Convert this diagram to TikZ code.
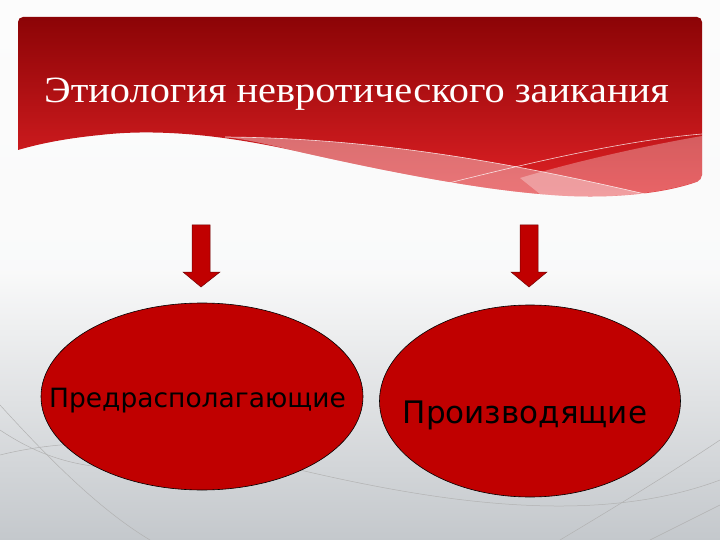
\documentclass[tikz,border=0pt]{standalone}
\usepackage{fontspec}
\usetikzlibrary{shapes.geometric}
\newfontfamily\titlefont{Liberation Serif}
\newfontfamily\causefont{DejaVu Sans}
\definecolor{slidered}{RGB}{192,0,0}
\definecolor{bannertop}{RGB}{140,4,6}
\definecolor{bannerbottom}{RGB}{226,34,38}
\definecolor{bgtop}{RGB}{252,252,252}
\definecolor{bgbottom}{RGB}{196,200,204}
\tikzset{
    cause/.style={ellipse, draw=black, line width=0.6pt, fill=slidered, inner sep=0pt},
    causetext/.style={font=\causefont, text=black, inner sep=0pt},
    downarrow/.style={fill=slidered, draw=bannertop!80!black, line width=0.5pt},
    bgline/.style={draw=gray!60, line width=0.5pt},
    waveline/.style={draw=white, opacity=0.8, line width=0.6pt}
}
\begin{document}
\begin{tikzpicture}[x=1pt, y=-1pt]
        \useasboundingbox (0,0) rectangle (720,540);
        \begin{scope}
            \shade [top color=bgtop, bottom color=bgbottom, middle color=bgtop!95!bgbottom] (0,0) rectangle (720,540);
            \draw [bgline] (0,405) .. controls (50,460) and (100,510) .. (150,540);
            \draw [bgline] (0,455) .. controls (80,435) and (180,440) .. (300,470);
            \draw [bgline] (300,470) .. controls (450,505) and (600,525) .. (720,480);
            \draw [bgline] (0,430) .. controls (60,470) and (120,480) .. (250,455);
            \draw [bgline] (720,440) .. controls (660,480) and (610,510) .. (560,540);
            \draw [bgline] (720,505) .. controls (690,520) and (670,530) .. (650,540);
        \end{scope}
        \begin{scope}
            \shade [top color=bannertop, bottom color=bannerbottom, rounded corners=5pt]
                (18,150) -- (18,17) -- (702,17) -- (702,180) [sharp corners]
                .. controls (660,195) and (600,200) .. (540,194)
                .. controls (470,188) and (380,170) .. (300,152)
                .. controls (230,136) and (160,128) .. (100,135)
                .. controls (60,139) and (35,145) .. (18,150) -- cycle;
            \fill [white, opacity=0.38]
                (225,137) .. controls (380,138) and (520,165) .. (645,194)
                .. controls (600,200) and (560,198) .. (540,194)
                .. controls (470,188) and (380,170) .. (300,152)
                .. controls (270,145) and (250,140) .. (225,137) -- cycle;
            \fill [white, opacity=0.3]
                (520,178) .. controls (580,160) and (650,145) .. (702,136)
                -- (702,180) .. controls (660,195) and (600,200) .. (540,194)
                -- (520,178) -- cycle;
            \draw [waveline] (225,137) .. controls (380,138) and (520,165) .. (645,194);
            \draw [waveline] (445,184) .. controls (540,160) and (630,140) .. (702,134);
            \node [font=\titlefont, text=white, anchor=base, inner sep=0pt, xscale=1.09] (title) at (356.5,103)
                {\fontsize{37}{40}\selectfont Этиология невротического заикания};
        \end{scope}
        \begin{scope}
            \coordinate (ltop) at (201,225);
            \coordinate (rtop) at (529,225);
            \filldraw [downarrow] ([xshift=-9]ltop) -- ([xshift=9]ltop) -- ([xshift=9,yshift=-47]ltop)
                -- ([xshift=19,yshift=-47]ltop) -- ([yshift=-62]ltop) -- ([xshift=-18,yshift=-47]ltop)
                -- ([xshift=-9,yshift=-47]ltop) -- cycle;
            \filldraw [downarrow] ([xshift=-9]rtop) -- ([xshift=9]rtop) -- ([xshift=9,yshift=-47]rtop)
                -- ([xshift=18,yshift=-47]rtop) -- ([yshift=-62]rtop) -- ([xshift=-18,yshift=-47]rtop)
                -- ([xshift=-9,yshift=-47]rtop) -- cycle;
        \end{scope}
        \begin{scope}
            \node [cause, minimum width=322pt, minimum height=187pt] (pre) at (202,396.5) {};
            \node [cause, minimum width=301pt, minimum height=192pt] (pro) at (530,401) {};
            \node [causetext, anchor=base] (pretext) at (197.5,407) {\fontsize{26.5}{30}\selectfont Предрасполагающие};
            \node [causetext, anchor=base] (protext) at (525,423) {\fontsize{31}{36}\selectfont Производящие};
        \end{scope}
    \end{tikzpicture}
\end{document}
